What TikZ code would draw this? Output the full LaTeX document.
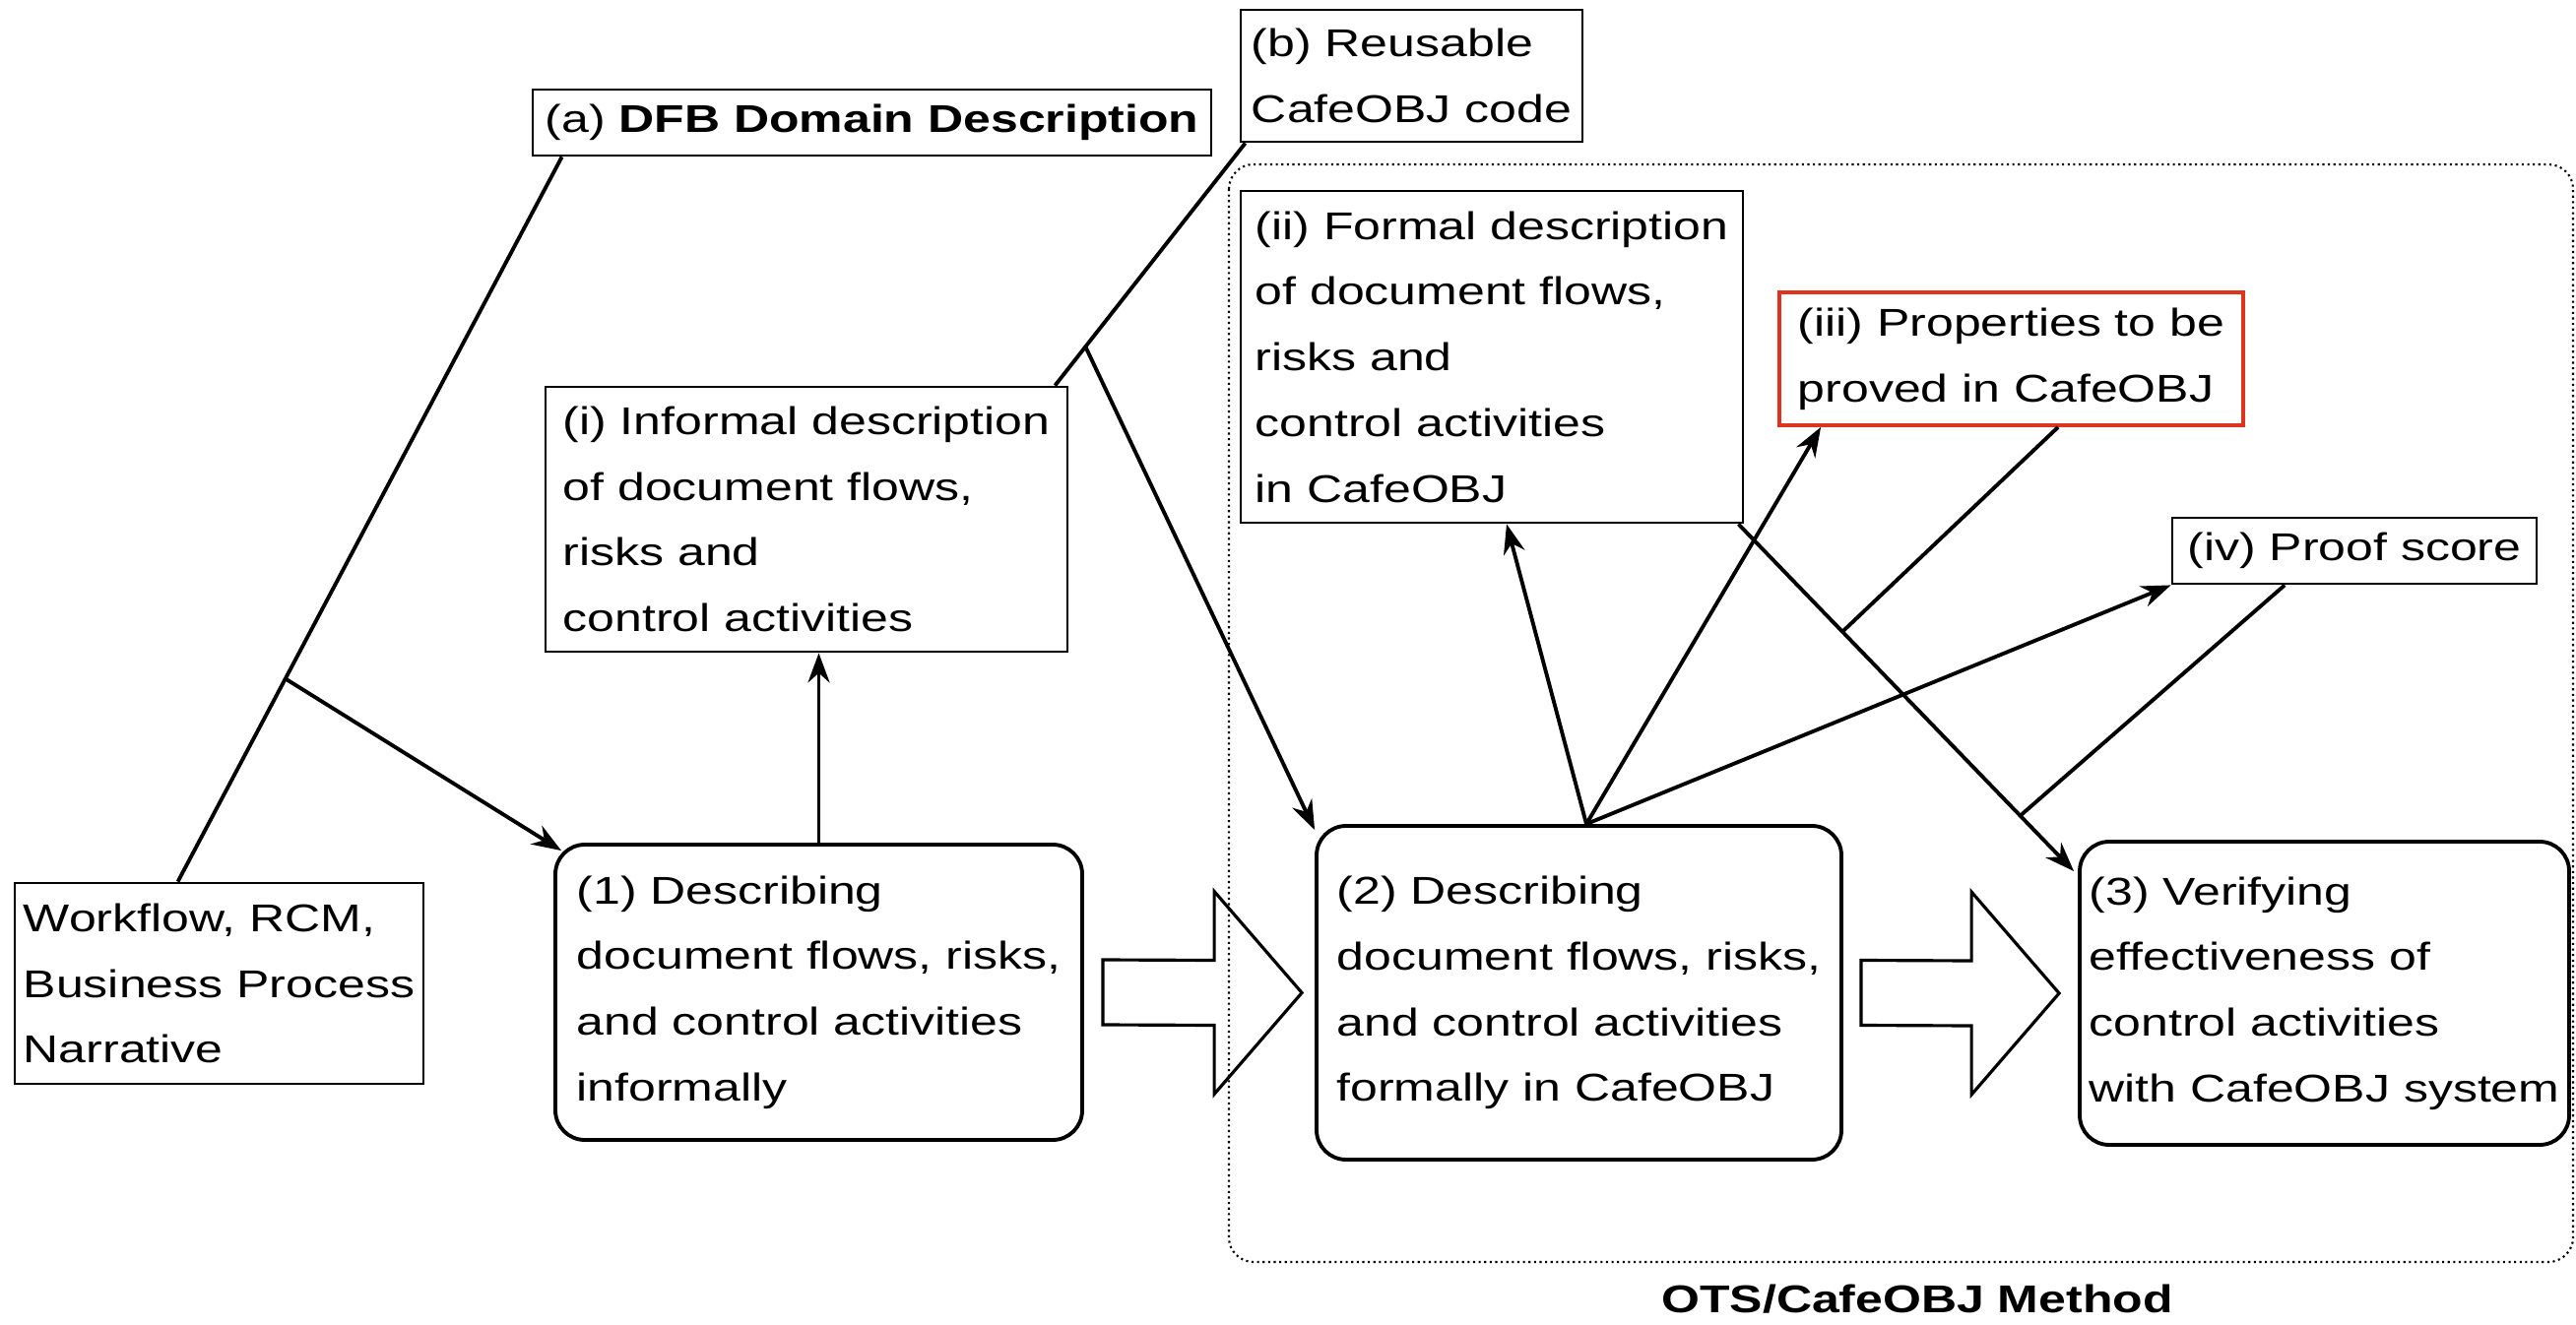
\documentclass[tikz,border=0pt]{standalone}
\usepackage{fontspec}
\setmainfont{Liberation Sans}[FakeStretch=1.27]
\usepackage{tikz}
\usetikzlibrary{arrows.meta, positioning, calc}

\definecolor{redline}{RGB}{222,52,30}
\newcommand{\boxfont}{\fontsize{11.2}{19}\selectfont}

\tikzset{
  infobox/.style={draw, line width=0.8pt, align=left, inner sep=0pt, font=\boxfont},
  stepbox/.style={infobox, rounded corners=0.3cm, line width=1.1pt},
  link/.style={line width=1.1pt},
  feed/.style={link, -{Stealth[length=3mm, width=2.2mm]}},
}

\begin{document}
\begin{tikzpicture}
  \useasboundingbox (0,0) rectangle (26.16,-13.46);
  \def\fatarrow#1#2{\draw[line width=0.9pt, line join=miter]
    ($(#1)+(0,0.33)$) -- ($(#2)+(-0.89,0.33)$) -- ($(#2)+(-0.89,1.03)$) -- (#2)
    -- ($(#2)+(-0.89,-1.03)$) -- ($(#2)+(-0.89,-0.33)$) -- ($(#1)+(0,-0.33)$) -- cycle;}

  % method frame
  \draw[densely dotted, line width=0.6pt, rounded corners=0.25cm] (12.48,-1.67) rectangle (26.13,-12.82);
  \node[font=\boxfont\bfseries] (method) at (19.47,-13.2) {OTS/CafeOBJ Method};

  % inputs and artefacts
  \node[infobox, minimum width=6.89cm, minimum height=0.67cm] (dfb) at (8.855,-1.245) {(a) \textbf{DFB Domain Description}};
  \node[infobox, minimum width=3.47cm, minimum height=1.34cm] (reuse) at (14.335,-0.77) {(b) Reusable\\CafeOBJ code};
  \node[infobox, minimum width=5.30cm, minimum height=2.69cm] (informal) at (8.19,-5.275) {(i) Informal description\\of document flows,\\risks and\\control activities};
  \node[infobox, minimum width=5.10cm, minimum height=3.37cm] (formal) at (15.15,-3.625) {(ii) Formal description\\of document flows,\\risks and\\control activities\\in CafeOBJ};
  \node[infobox, draw=redline, line width=1.1pt, minimum width=4.71cm, minimum height=1.35cm] (props) at (20.425,-3.645) {(iii) Properties to be\\proved in CafeOBJ};
  \node[infobox, minimum width=3.70cm, minimum height=0.67cm] (score) at (23.91,-5.595) {(iv) Proof score};
  \node[infobox, minimum width=4.15cm, minimum height=2.04cm] (sources) at (2.225,-9.99) {Workflow, RCM,\\Business Process\\Narrative};

  % the three steps
  \node[stepbox, minimum width=5.35cm, minimum height=3.00cm] (inform) at (8.315,-10.08) {(1) Describing\\document flows, risks,\\and control activities\\informally};
  \node[stepbox, minimum width=5.33cm, minimum height=3.39cm] (formalize) at (16.035,-10.085) {(2) Describing\\document flows, risks,\\and control activities\\formally in CafeOBJ};
  \node[stepbox, minimum width=4.97cm, minimum height=3.08cm] (verify) at (23.605,-10.09) {(3) Verifying\\effectiveness of\\control activities\\with CafeOBJ system};

  \coordinate (fa1) at ($(inform.east)+(0.19,0)$);
  \coordinate (fb1) at ($(formalize.west)+(-0.13,0)$);
  \coordinate (fa2) at ($(formalize.east)+(0.18,0)$);
  \coordinate (fb2) at ($(verify.west)+(-0.19,0)$);
  \fatarrow{fa1}{fb1}
  \fatarrow{fa2}{fb2}

  % (a) + sources -> step 1
  \coordinate (dfbout) at ($(dfb.south west)+(0.31,0)$);
  \coordinate (srcin) at ($(sources.north west)+(1.67,0)$);
  \draw[link] (dfbout) -- (srcin);
  \draw[feed] ($(dfbout)!0.72!(srcin)$) -- ($(inform.north west)+(0.08,-0.08)$);
  \draw[feed] (inform.north) -- (inform.north |- informal.south);

  % (b) + (i) -> step 2
  \coordinate (reuseout) at ($(reuse.south west)+(0.06,0)$);
  \coordinate (infin) at ($(informal.north east)+(-0.14,0)$);
  \draw[link] (reuseout) -- (infin);
  \draw[feed] ($(reuseout)!0.84!(infin)$) -- ($(formalize.north west)+(0,-0.06)$);

  % step 2 produces (ii), (iii), (iv)
  \coordinate (fan) at ($(formalize.north)+(0.075,0)$);
  \draw[feed] (fan) -- ($(formal.south)+(0.15,0)$);
  \draw[feed] (fan) -- ($(props.south west)+(0.44,0)$);
  \draw[feed] (fan) -- (score.south west);

  % (ii), (iii), (iv) -> step 3
  \coordinate (formalout) at ($(formal.south east)+(-0.06,0)$);
  \coordinate (verifyin) at ($(verify.north west)+(-0.04,-0.32)$);
  \draw[feed] (formalout) -- (verifyin);
  \draw[link] ($(props.south west)!0.6!(props.south east)$) -- ($(formalout)!0.31!(verifyin)$);
  \draw[link] ($(score.south west)!0.31!(score.south east)$) -- ($(formalout)!0.84!(verifyin)$);
\end{tikzpicture}
\end{document}
